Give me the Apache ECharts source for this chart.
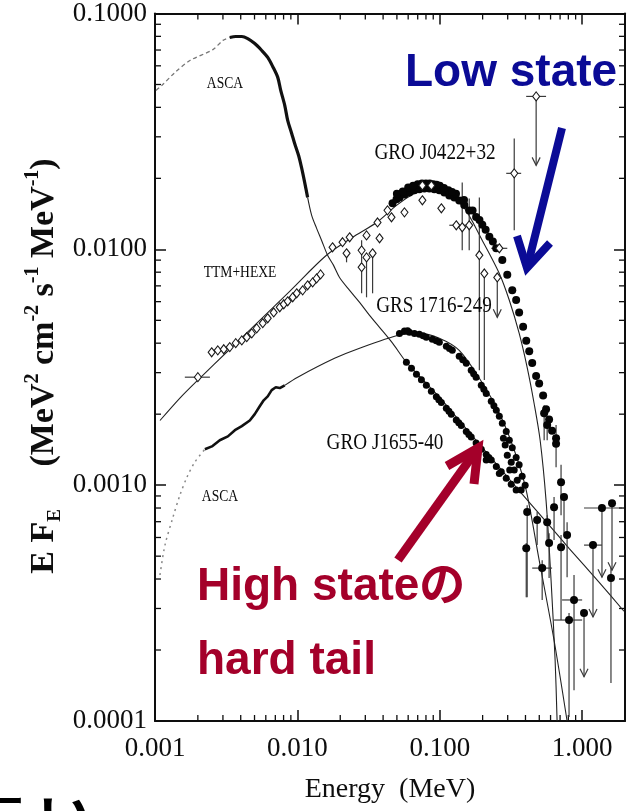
<!DOCTYPE html>
<html>
<head>
<meta charset="utf-8">
<script src="https://cdn.jsdelivr.net/npm/echarts@6/dist/echarts.min.js"></script>
<style>
  html, body { margin: 0; padding: 0; background: #fff; }
  #chart { width: 633px; height: 811px; }
</style>
</head>
<body>
<div id="chart"></div>
<script>
// ---- Broadband spectra of black-hole binaries: E*F_E vs energy (MeV) ----

// GRO J0422+32 (low state): model curve
const j0422Model = [[0.001084,0.00188],[0.001496,0.00234],[0.0020,0.00279],[0.00335,0.00377],[0.00544,0.0050],[0.00883,0.00664],[0.0160,0.00944],[0.0244,0.01125],[0.036,0.013],[0.0497,0.01536],[0.0643,0.0171],[0.0805,0.01778],[0.104,0.01744],[0.144,0.01535],[0.199,0.0109],[0.262,0.0079],[0.308,0.00608],[0.361,0.00441],[0.411,0.00316],[0.460,0.00222],[0.507,0.00155],[0.558,0.00086],[0.605,0.000395],[0.646,0.000181],[0.667,0.0001]];
// GRO J0422+32: OSSE points
const j0422Osse = [[0.0466,0.0157],[0.0497,0.0163],[0.0521,0.0166],[0.0565,0.0171],[0.0612,0.0174],[0.0664,0.0178],[0.0719,0.0180],[0.078,0.0181],[0.0845,0.0181],[0.0916,0.0180],[0.0993,0.0178],[0.1076,0.0174],[0.1167,0.0169],[0.1265,0.0166],[0.137,0.0161],[0.1486,0.0154],[0.161,0.0146],[0.180,0.0137],[0.199,0.0127],[0.223,0.0113],[0.249,0.0101],[0.275,0.0090],[0.298,0.0078],[0.323,0.0067],[0.344,0.0061],[0.361,0.0054],[0.385,0.0047],[0.405,0.0041],[0.425,0.0037],[0.446,0.0033],[0.475,0.0029],[0.499,0.0027],[0.532,0.0024],[0.558,0.0021],[0.586,0.0019],[0.615,0.0017],[0.656,0.0015],
  [0.05,0.0172],[0.06,0.0183],[0.07,0.0189],[0.08,0.0190],[0.09,0.0189],[0.10,0.0186],[0.115,0.0178],[0.13,0.0172],[0.148,0.0162],[0.17,0.0146],
  [0.055,0.0176],[0.065,0.0186],[0.075,0.019],[0.085,0.019],[0.095,0.0188],[0.107,0.0182],[0.122,0.0175],[0.19,0.0133],[0.21,0.0121],[0.236,0.0108]];
// GRO J0422+32: TTM+HEXE points
const j0422Ttm = [[0.0025,0.00366],[0.00276,0.00373],[0.00304,0.00377],[0.00335,0.00385],[0.00369,0.0040],[0.00407,0.00411],[0.00441,0.00424],[0.00478,0.0044],[0.00518,0.00462],[0.00571,0.00486],[0.00619,0.0051],[0.00682,0.0054],[0.00752,0.00568],[0.00802,0.00585],[0.00855,0.00602],[0.00927,0.00626],[0.00989,0.00651],[0.01089,0.0067],[0.0118,0.00704],[0.0128,0.00724],[0.01365,0.00753],[0.01455,0.00783]];
// GRO J0422+32: points with error bars [E, F, Flow, Fhigh, Elow, Ehigh, upperLimit]
const j0422Bars = [
  [0.0020,0.00287,0,0,0.00162,0.00243,0],
  [0.01766,0.0102,0,0,0,0,0],[0.02075,0.01072,0,0,0,0,0],[0.02328,0.01125,0,0,0,0,0],
  [0.02215,0.00962,0.00881,0,0,0,0],[0.02826,0.0099,0.00881,0.01092,0,0,0],[0.02826,0.0084,0.00651,0,0,0,0],
  [0.0306,0.01146,0,0,0,0,0],[0.0306,0.00924,0.00626,0,0,0,0],[0.03375,0.00962,0.00651,0,0,0,0],
  [0.03776,0.01114,0,0,0,0,0],[0.03655,0.013,0,0,0,0,0],[0.04296,0.01463,0,0,0,0,0],[0.04581,0.01367,0,0,0,0,0],
  [0.0565,0.01435,0,0,0,0,0],[0.0755,0.01866,0,0,0,0,0],[0.0873,0.01866,0,0,0,0,0],[0.0755,0.01614,0,0,0,0,0],
  [0.1026,0.01493,0,0,0,0,0],[0.1306,0.01265,0,0,0.1167,0.1563,0],[0.1438,0.0124,0.0099,0.01922,0,0,0],
  [0.161,0.01265,0.0099,0.01644,0,0,0],[0.1897,0.00944,0.00307,0.0166,0,0,0],[0.2056,0.0079,0.00279,0,0,0,0],
  [0.262,0.0101,0,0,0.230,0.298,0],[0.2535,0.0076,0.00515,0,0,0,1],
  [0.3335,0.021,0.01205,0.0295,0.293,0.373,0],[0.4753,0.0445,0.0227,0,0.4045,0.558,1]
];

// GRS 1716-249 (low state)
const grs1716AscaFaint = [[0.001084,0.000416],[0.001175,0.000557],[0.001337,0.000731],[0.001496,0.000907],[0.001676,0.00108],[0.0019,0.00125],[0.00224,0.00142]];
const grs1716Asca = [[0.00224,0.00142],[0.00251,0.00146],[0.00285,0.00155],[0.00325,0.00161],[0.00364,0.00171],[0.00407,0.00178],[0.00463,0.00188],[0.00502,0.0020],[0.00544,0.00216],[0.0058,0.00229],[0.00619,0.00238],[0.0066,0.00253],[0.00705,0.0026],[0.00752,0.00258],[0.00815,0.00265]];
const grs1716Model = [[0.00815,0.00265],[0.01005,0.00287],[0.01824,0.00345],[0.02733,0.00381],[0.0521,0.00433],[0.0719,0.0044],[0.0993,0.0042],[0.137,0.00373],[0.1897,0.00284],[0.262,0.00202],[0.3335,0.00141],[0.4045,0.000953],[0.499,0.000481],[0.635,0.00022],[0.784,0.0001]];
const grs1716Osse = [[0.0521,0.0044],[0.0565,0.0045],[0.0612,0.00445],[0.0664,0.0044],[0.0719,0.00436],[0.0805,0.00424],[0.0887,0.00416],[0.0993,0.00404],[0.1112,0.00388],[0.1225,0.00373],[0.137,0.00352],[0.1535,0.00329],[0.1663,0.00307],[0.180,0.00287],[0.1957,0.00265],[0.212,0.00245],[0.230,0.00227],[0.2495,0.00208],[0.262,0.00196],[0.275,0.00183],[0.293,0.00169],[0.308,0.00155],[0.323,0.00144],[0.344,0.00131],[0.361,0.00122],[0.379,0.00109],[0.398,0.0010],
  [0.288,0.00148],[0.298,0.00134],[0.3177,0.00125],[0.3335,0.00116],[0.35,0.00105],[0.373,0.000953],[0.31,0.00116],[0.28,0.00158],
  [0.0595,0.00452],[0.0765,0.0043],[0.0945,0.0041],[0.117,0.0038],[0.145,0.0034],[0.173,0.00297],[0.204,0.00255],[0.24,0.00217]];

// GRO J1655-40 (high state)
const j1655AscaFaint = [[0.001016,0.0472],[0.00112,0.0496],[0.00138,0.0562],[0.00176,0.0632],[0.00255,0.0703],[0.0030,0.0769],[0.00335,0.0791]];
const j1655Asca = [[0.00335,0.0791],[0.00369,0.0799],[0.00407,0.0799],[0.00448,0.0783],[0.00502,0.0746],[0.00562,0.0697],[0.00619,0.0651],[0.00671,0.0596],[0.00728,0.0536],[0.00764,0.0472],[0.00815,0.0408],[0.00855,0.0352],[0.00912,0.031],[0.00957,0.0281],[0.0102,0.025],[0.0107,0.0222],[0.01125,0.01923],[0.0118,0.0166]];
const j1655Model = [[0.0118,0.0166],[0.0126,0.01393],[0.01365,0.01227],[0.0148,0.0109],[0.0163,0.00944],[0.01795,0.00855],[0.01977,0.0076],[0.02328,0.0067],[0.02735,0.00596],[0.03214,0.00525],[0.03776,0.00467],[0.0466,0.0040],[0.0583,0.00332],[0.0805,0.0027],[0.104,0.00229],[0.137,0.00188],[0.180,0.00155],[0.262,0.00119],[0.379,0.000916],[0.586,0.000677],[0.809,0.00054],[1.313,0.000388],[1.967,0.000292]];
const j1655Osse = [[0.0583,0.00332],[0.0633,0.00313],[0.0686,0.00295],[0.0743,0.0028],[0.0805,0.00265],[0.0873,0.0025],[0.0946,0.00237],[0.1026,0.00224],[0.1112,0.00212],[0.1205,0.0020],[0.1306,0.00189],[0.1416,0.00179],[0.1535,0.00169],[0.1663,0.0016],[0.180,0.00151],[0.1957,0.00142],[0.212,0.00135],[0.230,0.00128],[0.2495,0.0012],[0.2704,0.00114],[0.293,0.00107],[0.3177,0.00101],[0.344,0.000953],[0.212,0.00128],[0.262,0.00112],
  [0.0985,0.0023],[0.116,0.00206],[0.136,0.00184],[0.16,0.00164],[0.188,0.00146],[0.221,0.00131]];
// High-energy tail points [E, F, Flow, Fhigh, Elow, Ehigh, upperLimit]
const tailPoints = [
  [0.541,0.00202,0.00155,0.00218,0,0,0],[0.568,0.0018,0.00155,0,0,0,0],[0.656,0.00158,0.00119,0.0018,0,0,0],
  [0.711,0.00103,0.000746,0.00122,0,0,0],[0.746,0.00089,0.000626,0,0,0,0],[0.635,0.000807,0.000585,0.00089,0,0,0],
  [0.411,0.000769,0.000335,0.000822,0,0,0],[0.405,0.00054,0.000335,0.000568,0,0,0],[0.483,0.000711,0.000557,0.000769,0,0,0],
  [0.524,0.000445,0.000326,0.000481,0.446,0.615,0],[0.568,0.000697,0.000585,0.000746,0,0,0],[0.586,0.000568,0.000404,0.000626,0,0,0],
  [0.784,0.000614,0.000407,0.000697,0,0,0],[0.711,0.000546,0.000268,0.000614,0,0,0],
  [0.877,0.000326,0.000135,0.000416,0.723,1.0,0],[0.809,0.000268,0.000104,0.000287,0.635,1.0,0],
  [1.031,0.000287,0.000154,0,0,0,1],[1.192,0.000557,0.000276,0,1.031,1.378,1],[1.378,0.0008,0.000407,0,1.031,1.905,1],
  [1.621,0.000839,0.000436,0,0,0,1],[1.594,0.000404,0.000145,0.000445,0,0,0]
];

// Axis tick values
const xTickLabels = ['0.001', '0.010', '0.100', '1.000'];
const yTickLabels = ['0.0001', '0.0010', '0.0100', '0.1000'];
const xDecades = [0.001, 0.01, 0.1, 1];
const yDecades = [0.0001, 0.001, 0.01];
const minorMult = [2, 3, 4, 5, 6, 7, 8, 9];
const xMin = 0.001, xMax = 2, yMin = 0.0001, yMax = 0.1;

const xMinor = [];
xDecades.forEach(d => minorMult.forEach(m => { const v = d * m; if (v < xMax) xMinor.push([v, 0.001]); }));
const yMinor = [];
yDecades.forEach(d => minorMult.forEach(m => yMinor.push([0.01, d * m])));

const SERIF = "'Liberation Serif', 'DejaVu Serif', serif";
const INK = '#0e0e0e';

function axisCommon(extra) {
  return Object.assign({
    type: 'log', logBase: 10,
    axisLine: { show: true, lineStyle: { color: INK, width: 2 } },
    axisTick: { show: true, inside: true, length: 11, lineStyle: { color: INK, width: 1.5 } },
    splitLine: { show: false },
    minorTick: { show: false }
  }, extra);
}

function barRender(params, api) {
  const E = api.value(0), F = api.value(1);
  const lo = api.value(2), hi = api.value(3), el = api.value(4), eh = api.value(5), ul = api.value(6);
  const p = api.coord([E, F]);
  const st = { stroke: '#3a3a3a', lineWidth: 1.2, fill: null };
  const children = [];
  if (lo > 0 || hi > 0) {
    const yTop = api.coord([E, hi > 0 ? hi : F])[1];
    const yBot = api.coord([E, lo > 0 ? lo : F])[1];
    children.push({ type: 'line', shape: { x1: p[0], y1: yTop, x2: p[0], y2: yBot }, style: st });
    if (ul) {
      children.push({ type: 'polyline', shape: { points: [[p[0] - 4, yBot - 8], [p[0], yBot], [p[0] + 4, yBot - 8]] }, style: st });
    }
  }
  if (el > 0) {
    const a = api.coord([el, F]), b = api.coord([eh, F]);
    children.push({ type: 'line', shape: { x1: a[0], y1: p[1], x2: b[0], y2: p[1] }, style: st });
  }
  return { type: 'group', children };
}

function minorX(params, api) {
  const x = api.coord([api.value(0), api.value(1)])[0];
  const cs = params.coordSys;
  const st = { stroke: INK, lineWidth: 1.3 };
  return { type: 'group', children: [
    { type: 'line', shape: { x1: x, y1: cs.y + cs.height, x2: x, y2: cs.y + cs.height - 6 }, style: st },
    { type: 'line', shape: { x1: x, y1: cs.y, x2: x, y2: cs.y + 6 }, style: st }
  ] };
}
function minorY(params, api) {
  const y = api.coord([api.value(0), api.value(1)])[1];
  const cs = params.coordSys;
  const st = { stroke: INK, lineWidth: 1.3 };
  return { type: 'group', children: [
    { type: 'line', shape: { x1: cs.x, y1: y, x2: cs.x + 6, y2: y }, style: st },
    { type: 'line', shape: { x1: cs.x + cs.width, y1: y, x2: cs.x + cs.width - 6, y2: y }, style: st }
  ] };
}

function lineSeries(data, width, color, type, smooth) {
  return { type: 'line', data, showSymbol: false, symbol: 'none', smooth: smooth || 0, silent: true,
    lineStyle: { color, width, type: type || 'solid', opacity: 1 }, z: 2 };
}
function dotSeries(data, size) {
  return { type: 'scatter', data, symbol: 'circle', symbolSize: size, silent: true,
    itemStyle: { color: '#050505', opacity: 1 }, z: 4 };
}

function srcLabel(text, x, y, size) {
  return { type: 'text', x, y, scaleX: 0.8, z: 50,
    style: { text, fill: '#0a0a0a', font: size + 'px ' + SERIF, align: 'center', verticalAlign: 'middle' } };
}

function arrow(color, tail, tip, wingA, wingB, width) {
  return [
    { type: 'polyline', z: 60, shape: { points: [tail, tip] }, style: { stroke: color, lineWidth: width, lineCap: 'butt' } },
    { type: 'polyline', z: 60, shape: { points: [wingA, tip, wingB] }, style: { stroke: color, lineWidth: width, lineJoin: 'miter', lineCap: 'butt', fill: null } }
  ];
}

const chart = echarts.init(document.getElementById('chart'), null, { renderer: 'canvas' });

const BLUE = '#0b0b96';
const RED = '#a4002a';

chart.setOption({
  animation: false,
  backgroundColor: '#ffffff',
  grid: { left: 155, right: 8, top: 13, bottom: 90, containLabel: false },
  xAxis: [
    axisCommon({
      position: 'bottom', min: xMin, max: xMax,
      axisLabel: { show: true, margin: 14, color: INK, fontFamily: SERIF, fontSize: 27, showMaxLabel: false,
        formatter: v => { const i = Math.round(Math.log10(v)) + 3; return xTickLabels[i] || ''; } },
      name: 'Energy  (MeV)', nameLocation: 'middle', nameGap: 55,
      nameTextStyle: { color: INK, fontFamily: SERIF, fontSize: 28 }
    }),
    axisCommon({ position: 'top', min: xMin, max: xMax, axisLabel: { show: false } })
  ],
  yAxis: [
    axisCommon({
      position: 'left', min: yMin, max: yMax,
      axisLabel: { show: true, margin: 8, color: INK, fontFamily: SERIF, fontSize: 27,
        formatter: v => { const i = Math.round(Math.log10(v)) + 4; return yTickLabels[i] || ''; } }
    }),
    axisCommon({ position: 'right', min: yMin, max: yMax, axisLabel: { show: false } })
  ],
  series: [
    { type: 'custom', renderItem: minorX, data: xMinor, silent: true, z: 1 },
    { type: 'custom', renderItem: minorY, data: yMinor, silent: true, z: 1 },

    lineSeries(j0422Model, 1.1, '#222', 'solid', 0.3),
    lineSeries(grs1716Model, 1.1, '#222', 'solid', 0.3),
    lineSeries(j1655Model, 1.1, '#222', 'solid', 0.3),
    lineSeries(j1655AscaFaint, 1.3, '#777', [4, 3], 0.3),
    lineSeries(j1655Asca, 3.2, '#111', 'solid', 0.3),
    lineSeries(grs1716AscaFaint, 1.5, '#888', [2, 4], 0.3),
    lineSeries(grs1716Asca, 2.6, '#111', 'solid', 0),

    dotSeries(j0422Osse, 8),
    dotSeries(grs1716Osse, 7),
    dotSeries(j1655Osse, 7),

    { type: 'custom', renderItem: barRender, data: j0422Bars, silent: true, z: 3 },
    { type: 'scatter', data: j0422Ttm.concat(j0422Bars.map(r => [r[0], r[1]])), symbol: 'diamond', symbolSize: [7, 9], silent: true,
      itemStyle: { color: '#ffffff', borderColor: '#1a1a1a', borderWidth: 1.1, opacity: 1 }, z: 5 },

    { type: 'custom', renderItem: barRender, data: tailPoints, silent: true, z: 3 },
    dotSeries(tailPoints.map(r => [r[0], r[1]]), 8)
  ],
  graphic: [
    // y-axis title
    { type: 'text', x: 42, y: 366, rotation: Math.PI / 2, z: 50,
      style: {
        text: '{b|E F}{s|E}{b|     (MeV}{p|2}{b| cm}{p|-2}{b| s}{p|-1}{b| MeV}{p|-1}{b|)}',
        align: 'center', verticalAlign: 'middle',
        rich: {
          b: { font: 'bold 34px ' + SERIF, fill: INK, verticalAlign: 'bottom', lineHeight: 38 },
          s: { font: 'bold 19px ' + SERIF, fill: INK, verticalAlign: 'bottom', lineHeight: 38, padding: [0, 0, -4, 0] },
          p: { font: 'bold 20px ' + SERIF, fill: INK, verticalAlign: 'top', lineHeight: 38 }
        }
      } },

    srcLabel('ASCA', 225, 84, 17),
    srcLabel('TTM+HEXE', 240, 273, 17),
    srcLabel('ASCA', 220, 497, 17),
    srcLabel('GRO J0422+32', 435, 153, 24),
    srcLabel('GRS 1716-249', 434, 306, 24),
    srcLabel('GRO J1655-40', 385, 443, 24),

    { type: 'text', x: 405, y: 73, z: 70,
      style: { text: 'Low state', fill: BLUE, font: "bold 46px 'Liberation Sans', Arial, sans-serif", align: 'left', verticalAlign: 'middle' } },
    ...arrow(BLUE, [562, 128], [527, 268], [517, 236], [550, 243], 8),

    { type: 'text', x: 197, y: 587, z: 70,
      style: { text: 'High stateの', fill: RED, font: "bold 46px 'Liberation Sans', 'Noto Sans CJK JP', sans-serif", align: 'left', verticalAlign: 'middle' } },
    { type: 'text', x: 197, y: 661, z: 70,
      style: { text: 'hard tail', fill: RED, font: "bold 46px 'Liberation Sans', 'Noto Sans CJK JP', sans-serif", align: 'left', verticalAlign: 'middle' } },
    ...arrow(RED, [398, 560], [478, 448], [447, 466], [474, 484], 9),

    // handwritten note at the bottom edge (only its top is on the page)
    { type: 'text', x: -10, y: 801, z: 70,
      style: { text: 'ー', fill: '#000', font: "bold 34px 'Noto Sans CJK JP', sans-serif", align: 'left', verticalAlign: 'middle' } },
    { type: 'text', x: 38, y: 790, z: 70,
      style: { text: 'い', fill: '#000', font: "bold 54px 'Noto Sans CJK JP', sans-serif", align: 'left', verticalAlign: 'top' } }
  ]
});
</script>
</body>
</html>
